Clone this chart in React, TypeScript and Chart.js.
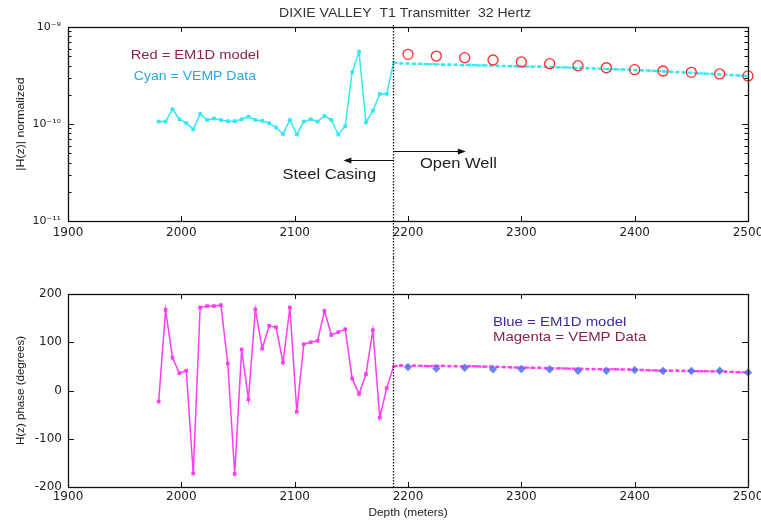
import React, { useEffect, useRef } from "react";
import { Chart, registerables } from "chart.js";
Chart.register(...registerables);

// ---------- axis ticks ----------
const xTicks = [1900, 2000, 2100, 2200, 2300, 2400, 2500];
const xTickLabels = ["1900", "2000", "2100", "2200", "2300", "2400", "2500"];
const ampTicks = [1e-11, 1e-10, 1e-9];
const ampTickLabels = ["10\u207B\u00B9\u00B9", "10\u207B\u00B9\u2070", "10\u207B\u2079"];
const ampMinorTicks = [2e-11, 3e-11, 4e-11, 5e-11, 6e-11, 7e-11, 8e-11, 9e-11, 2e-10, 3e-10, 4e-10, 5e-10, 6e-10, 7e-10, 8e-10, 9e-10];
const phaseTicks = [-200, -100, 0, 100, 200];
const phaseTickLabels = ["-200", "-100", "0", "100", "200"];

// ---------- data ----------
const casingDepth = 2187;

const depthCasing = [1980.0, 1986.1, 1992.2, 1998.3, 2004.4, 2010.5, 2016.6, 2022.7, 2028.8, 2034.9, 2041.0, 2047.1, 2053.2, 2059.2, 2065.3, 2071.4, 2077.5, 2083.6, 2089.7, 2095.8, 2101.9, 2108.0, 2114.1, 2120.2, 2126.3, 2132.4, 2138.5, 2144.6, 2150.7, 2156.8, 2162.9, 2169.0, 2175.1, 2181.2];
const ampCasing = [1.06e-10, 1.06e-10, 1.42e-10, 1.12e-10, 1.02e-10, 0.88e-10, 1.27e-10, 1.10e-10, 1.14e-10, 1.10e-10, 1.07e-10, 1.07e-10, 1.12e-10, 1.19e-10, 1.10e-10, 1.08e-10, 1.02e-10, 0.92e-10, 0.79e-10, 1.10e-10, 0.78e-10, 1.06e-10, 1.12e-10, 1.06e-10, 1.21e-10, 1.10e-10, 0.78e-10, 0.95e-10, 3.41e-10, 5.56e-10, 1.04e-10, 1.37e-10, 2.04e-10, 2.04e-10];
const phaseCasing = [-23, 167, 68, 36, 41, -172, 172, 175, 175, 177, 56, -173, 85, -18, 168, 87, 134, 131, 58, 172, -44, 96, 100, 103, 165, 115, 121, 127, 25, -7, 34, 125, -56, 5];

const depthOpen = [2187.3, 2193.4, 2199.5, 2205.6, 2211.7, 2217.8, 2223.9, 2230.0, 2236.1, 2242.2, 2248.3, 2254.4, 2260.5, 2266.6, 2272.7, 2278.8, 2284.9, 2291.0, 2297.1, 2303.2, 2309.3, 2315.4, 2321.5, 2327.6, 2333.7, 2339.8, 2345.9, 2352.0, 2358.1, 2364.2, 2370.3, 2376.4, 2382.5, 2388.6, 2394.7, 2400.8, 2406.9, 2413.0, 2419.1, 2425.2, 2431.3, 2437.4, 2443.5, 2449.6, 2455.7, 2461.8, 2467.9, 2474.0, 2480.1, 2486.2, 2492.3, 2498.4];
const ampOpen = [4.29e-10, 4.22e-10, 4.20e-10, 4.17e-10, 4.18e-10, 4.14e-10, 4.13e-10, 4.10e-10, 4.09e-10, 4.08e-10, 4.05e-10, 4.06e-10, 4.03e-10, 4.02e-10, 4.01e-10, 3.97e-10, 3.96e-10, 3.95e-10, 3.93e-10, 3.93e-10, 3.90e-10, 3.91e-10, 3.88e-10, 3.86e-10, 3.84e-10, 3.83e-10, 3.80e-10, 3.79e-10, 3.76e-10, 3.74e-10, 3.71e-10, 3.69e-10, 3.66e-10, 3.65e-10, 3.62e-10, 3.60e-10, 3.57e-10, 3.55e-10, 3.52e-10, 3.49e-10, 3.46e-10, 3.43e-10, 3.40e-10, 3.37e-10, 3.34e-10, 3.31e-10, 3.29e-10, 3.26e-10, 3.23e-10, 3.19e-10, 3.16e-10, 3.13e-10];
const phaseOpen = [50, 52, 51, 51.5, 51, 50.5, 51, 51, 50.5, 50.5, 50, 50.5, 50, 49.5, 49.5, 49, 48.5, 48, 47.5, 47.5, 47, 47, 46.5, 46, 46, 45.5, 45, 45, 44.5, 44.5, 44, 44, 44, 43.5, 43.5, 43, 42.5, 42, 41.5, 41, 41, 41, 40.5, 40.5, 40, 40, 39.5, 39.5, 39, 38.5, 38, 37.5];

const modelDepth = [2200, 2225, 2250, 2275, 2300, 2325, 2350, 2375, 2400, 2425, 2450, 2475, 2500];
const ampModel = [5.23e-10, 5.02e-10, 4.83e-10, 4.57e-10, 4.36e-10, 4.19e-10, 3.99e-10, 3.80e-10, 3.63e-10, 3.52e-10, 3.41e-10, 3.28e-10, 3.13e-10];
const phaseModel = [48.5, 45.5, 47, 44, 44.5, 44, 41, 41, 42.5, 40.5, 40.5, 41, 37.5];

// ---------- styling ----------
const CYAN = "#2feaf3";
const MAGENTA = "#ff3df2";
const RED = "#ff2a2a";
const BLUE = "rgba(80,112,245,0.85)";
const TICK_FONT = { family: "DejaVu Sans", size: 12 };
const TEXT_FAMILY = "'Liberation Sans', Arial, sans-serif";

function pts(xs: number[], ys: number[]) {
  return xs.map((x, i) => ({ x, y: ys[i] }));
}

function stretchText(ctx: CanvasRenderingContext2D, text: string, x: number, y: number, size: number, color: string, align: CanvasTextAlign, sx: number, rotate = false) {
  ctx.save();
  ctx.translate(x, y);
  if (rotate) ctx.rotate(-Math.PI / 2);
  ctx.scale(sx, 1);
  ctx.font = `${size}px ${TEXT_FAMILY}`;
  ctx.fillStyle = color;
  ctx.textAlign = align;
  ctx.textBaseline = "middle";
  ctx.fillText(text, 0, 0);
  ctx.restore();
}

function arrow(ctx: CanvasRenderingContext2D, x1: number, x2: number, y: number) {
  ctx.save();
  ctx.strokeStyle = "#111";
  ctx.fillStyle = "#111";
  ctx.lineWidth = 1;
  const yy = Math.round(y) + 0.5;
  const dir = x2 > x1 ? 1 : -1;
  ctx.beginPath();
  ctx.moveTo(x1, yy);
  ctx.lineTo(x2 - dir * 6, yy);
  ctx.stroke();
  ctx.beginPath();
  ctx.moveTo(x2, yy);
  ctx.lineTo(x2 - dir * 8, yy - 3);
  ctx.lineTo(x2 - dir * 8, yy + 3);
  ctx.closePath();
  ctx.fill();
  ctx.restore();
}

function drawFrame(chart: any, major: number[], minor: number[]) {
  const { ctx, chartArea: a, scales } = chart;
  const x = scales.x, y = scales.y;
  ctx.save();
  ctx.strokeStyle = "#111";
  ctx.lineWidth = 1;
  ctx.beginPath();
  for (const v of xTicks) {
    const px = Math.round(x.getPixelForValue(v)) + 0.5;
    ctx.moveTo(px, a.bottom); ctx.lineTo(px, a.bottom - 5);
    ctx.moveTo(px, a.top); ctx.lineTo(px, a.top + 5);
  }
  for (const v of major) {
    const py = Math.round(y.getPixelForValue(v)) + 0.5;
    ctx.moveTo(a.left, py); ctx.lineTo(a.left + 6, py);
    ctx.moveTo(a.right, py); ctx.lineTo(a.right - 6, py);
  }
  for (const v of minor) {
    const py = Math.round(y.getPixelForValue(v)) + 0.5;
    ctx.moveTo(a.left, py); ctx.lineTo(a.left + 3.5, py);
    ctx.moveTo(a.right, py); ctx.lineTo(a.right - 3.5, py);
  }
  ctx.stroke();
  ctx.lineWidth = 1.3;
  ctx.strokeRect(Math.round(a.left) + 0.5, Math.round(a.top) + 0.5, Math.round(a.right - a.left), Math.round(a.bottom - a.top));
  ctx.restore();
}

function dottedLine(chart: any, y1: number, y2: number) {
  const { ctx, scales } = chart;
  const px = Math.round(scales.x.getPixelForValue(casingDepth)) + 0.5;
  ctx.save();
  ctx.strokeStyle = "#111";
  ctx.lineWidth = 1.3;
  ctx.setLineDash([1.5, 1.5]);
  ctx.beginPath();
  ctx.moveTo(px, y1);
  ctx.lineTo(px, y2);
  ctx.stroke();
  ctx.restore();
}

const topPlugin = {
  id: "topDecor",
  afterDraw(chart: any) {
    const { ctx, chartArea: a, scales } = chart;
    const x = scales.x, y = scales.y;
    drawFrame(chart, ampTicks, ampMinorTicks);
    dottedLine(chart, a.top - 2, chart.height);
    stretchText(ctx, "DIXIE VALLEY  T1 Transmitter  32 Hertz", (a.left + a.right) / 2 - 3, a.top - 14, 13, "#333", "center", 1.08);
    stretchText(ctx, "Red = EM1D model", x.getPixelForValue(2012), y.getPixelForValue(5.14e-10), 13, "#8b2252", "center", 1.13);
    stretchText(ctx, "Cyan = VEMP Data", x.getPixelForValue(2012), y.getPixelForValue(3.13e-10), 13, "#2aa8e0", "center", 1.08);
    const bx = x.getPixelForValue(casingDepth);
    arrow(ctx, bx, x.getPixelForValue(2143), y.getPixelForValue(4.3e-11));
    stretchText(ctx, "Steel Casing", x.getPixelForValue(2130.6), y.getPixelForValue(2.97e-11), 14, "#222", "center", 1.18);
    arrow(ctx, bx, x.getPixelForValue(2251), y.getPixelForValue(5.27e-11));
    stretchText(ctx, "Open Well", x.getPixelForValue(2244.5), y.getPixelForValue(3.85e-11), 14, "#222", "center", 1.18);
    stretchText(ctx, "|H(z)| normalized", 21, (a.top + a.bottom) / 2, 11, "#222", "center", 1.12, true);
  },
};

const bottomPlugin = {
  id: "bottomDecor",
  afterDraw(chart: any) {
    const { ctx, chartArea: a, scales } = chart;
    const x = scales.x, y = scales.y;
    drawFrame(chart, phaseTicks, []);
    dottedLine(chart, 0, a.bottom + 2);
    stretchText(ctx, "Blue = EM1D model", x.getPixelForValue(2275), y.getPixelForValue(142), 13, "#3b2d9c", "left", 1.15);
    stretchText(ctx, "Magenta = VEMP Data", x.getPixelForValue(2275), y.getPixelForValue(109), 13, "#8b2252", "left", 1.15);
    stretchText(ctx, "H(z) phase (degrees)", 21, (a.top + a.bottom) / 2, 11, "#222", "center", 1.05, true);
    stretchText(ctx, "Depth (meters)", (a.left + a.right) / 2, chart.height - 12, 11, "#222", "center", 1.08);
  },
};

function xScale(height: number, padding: number) {
  return {
    type: "linear",
    min: 1900,
    max: 2500,
    grid: { display: false, drawTicks: false },
    border: { display: false },
    afterBuildTicks: (s: any) => { s.ticks = xTicks.map((v) => ({ value: v })); },
    afterFit: (s: any) => { s.height = height; s.paddingLeft = 0; s.paddingRight = 0; },
    ticks: {
      autoSkip: false,
      maxRotation: 0,
      padding,
      color: "#222",
      font: TICK_FONT,
      callback: (v: any) => xTickLabels[xTicks.indexOf(Number(v))] ?? "",
    },
  };
}

function vempDataset(ys: number[], ysOpen: number[], color: string) {
  return {
    data: [...pts(depthCasing, ys), ...pts(depthOpen, ysOpen)],
    showLine: true,
    borderColor: color,
    backgroundColor: color,
    borderWidth: 1.5,
    pointStyle: "rect",
    pointBorderWidth: 0,
    pointRadius: (c: any) => (c.raw && c.raw.x < casingDepth ? 2.6 : 1.8),
    segment: {
      borderDash: (c: any) => (c.p0.parsed.x >= casingDepth ? [4, 2] : undefined),
      borderWidth: (c: any) => (c.p0.parsed.x >= casingDepth ? 2.2 : 1.5),
    },
    clip: false,
    order: 2,
  };
}

export default function App() {
  const topRef = useRef<HTMLCanvasElement>(null);
  const botRef = useRef<HTMLCanvasElement>(null);

  useEffect(() => {
    const top = new Chart(topRef.current as HTMLCanvasElement, {
      type: "scatter",
      data: {
        datasets: [
          vempDataset(ampCasing, ampOpen, CYAN) as any,
          {
            data: pts(modelDepth, ampModel),
            showLine: false,
            pointStyle: "circle",
            pointRadius: 5,
            borderColor: RED,
            backgroundColor: "rgba(0,0,0,0)",
            pointBorderWidth: 1.3,
            clip: false,
            order: 1,
          } as any,
        ],
      },
      options: {
        animation: false,
        responsive: false,
        events: [],
        layout: { padding: { top: 27, right: 13, left: 0, bottom: 0 } },
        plugins: { legend: { display: false }, tooltip: { enabled: false } },
        scales: {
          x: xScale(37, 5) as any,
          y: {
            type: "logarithmic",
            min: 1e-11,
            max: 1e-9,
            grid: { display: false, drawTicks: false },
            border: { display: false },
            afterBuildTicks: (s: any) => { s.ticks = ampTicks.map((v) => ({ value: v, major: true })); },
            afterFit: (s: any) => { s.width = 68; s.paddingTop = 0; s.paddingBottom = 0; },
            ticks: {
              padding: 7,
              color: "#222",
              font: { family: "DejaVu Sans", size: 11 },
              callback: (v: any) => {
                const i = ampTicks.findIndex((t) => Math.abs(t - Number(v)) / t < 1e-6);
                return i >= 0 ? ampTickLabels[i] : "";
              },
            },
          } as any,
        },
      },
      plugins: [topPlugin],
    });

    const bot = new Chart(botRef.current as HTMLCanvasElement, {
      type: "scatter",
      data: {
        datasets: [
          vempDataset(phaseCasing, phaseOpen, MAGENTA) as any,
          {
            data: pts(modelDepth, phaseModel),
            showLine: false,
            pointStyle: "rectRot",
            pointRadius: 4.2,
            borderColor: BLUE,
            backgroundColor: BLUE,
            pointBorderWidth: 0,
            clip: false,
            order: 1,
          } as any,
        ],
      },
      options: {
        animation: false,
        responsive: false,
        events: [],
        layout: { padding: { top: 36, right: 13, left: 0, bottom: 0 } },
        plugins: { legend: { display: false }, tooltip: { enabled: false } },
        scales: {
          x: xScale(38, 3) as any,
          y: {
            type: "linear",
            min: -200,
            max: 200,
            grid: { display: false, drawTicks: false },
            border: { display: false },
            afterBuildTicks: (s: any) => { s.ticks = phaseTicks.map((v) => ({ value: v })); },
            afterFit: (s: any) => { s.width = 68; s.paddingTop = 0; s.paddingBottom = 0; },
            ticks: {
              padding: 6,
              color: "#222",
              font: TICK_FONT,
              callback: (v: any) => phaseTickLabels[phaseTicks.indexOf(Number(v))] ?? "",
            },
          } as any,
        },
      },
      plugins: [bottomPlugin],
    });

    return () => {
      top.destroy();
      bot.destroy();
    };
  }, []);

  return (
    <div style={{ position: "absolute", left: 0, top: 0, width: 761, height: 525, background: "#fff" }}>
      <canvas ref={topRef} width={761} height={258} style={{ position: "absolute", left: 0, top: 0, width: 761, height: 258 }} />
      <canvas ref={botRef} width={761} height={267} style={{ position: "absolute", left: 0, top: 258, width: 761, height: 267 }} />
    </div>
  );
}
